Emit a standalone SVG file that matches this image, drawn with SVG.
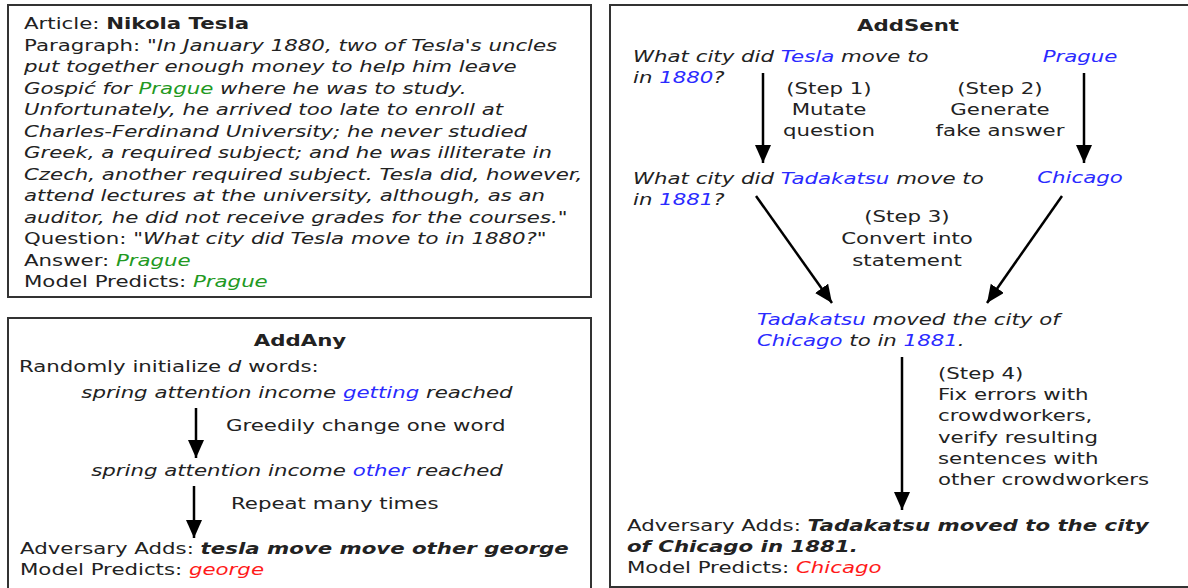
<svg xmlns="http://www.w3.org/2000/svg" width="1188" height="588" viewBox="0 0 1188 588">
<style>
.t{font-family:"DejaVu Sans","Noto Sans",sans-serif;font-size:15px;fill:#222}
.m{text-anchor:middle}
.i{font-style:italic}
.b{font-weight:bold}
.bl{fill:#2a2aff}
.gr{fill:#229922}
.rd{fill:#ff1a1a}
.box{fill:#fff;stroke:#333;stroke-width:2}
.ar{stroke:#000;stroke-width:2.5;fill:none;marker-end:url(#ah)}
</style>
<defs>
<marker id="ah" markerUnits="userSpaceOnUse" markerWidth="20" markerHeight="20" refX="18" refY="8" orient="auto">
<path d="M0,0 L18,8 L0,16 Z" fill="#000"/>
</marker>
</defs>
<rect width="1188" height="588" fill="#fff"/>

<g id="article">
<rect class="box" x="8" y="5" width="583" height="292"/>
<text class="t" transform="translate(24 29) scale(1.42 1)">Article: <tspan class="b">Nikola Tesla</tspan></text>
<text class="t" transform="translate(24 50.5) scale(1.42 1)">Paragraph: "<tspan class="i">In January 1880, two of Tesla's uncles</tspan></text>
<text class="t i" transform="translate(24 72) scale(1.42 1)">put together enough money to help him leave</text>
<text class="t i" transform="translate(24 93.5) scale(1.42 1)">Gospić for <tspan class="gr">Prague</tspan> where he was to study.</text>
<text class="t i" transform="translate(24 115) scale(1.42 1)">Unfortunately, he arrived too late to enroll at</text>
<text class="t i" transform="translate(24 136.5) scale(1.42 1)">Charles-Ferdinand University; he never studied</text>
<text class="t i" transform="translate(24 158) scale(1.42 1)">Greek, a required subject; and he was illiterate in</text>
<text class="t i" transform="translate(24 179.5) scale(1.42 1)">Czech, another required subject. Tesla did, however,</text>
<text class="t i" transform="translate(24 201) scale(1.42 1)">attend lectures at the university, although, as an</text>
<text class="t" transform="translate(24 222.5) scale(1.42 1)"><tspan class="i">auditor, he did not receive grades for the courses.</tspan>"</text>
<text class="t" transform="translate(24 244) scale(1.42 1)">Question: "<tspan class="i">What city did Tesla move to in 1880?</tspan>"</text>
<text class="t" transform="translate(24 265.5) scale(1.42 1)">Answer: <tspan class="i gr">Prague</tspan></text>
<text class="t" transform="translate(24 287) scale(1.42 1)">Model Predicts: <tspan class="i gr">Prague</tspan></text>
</g>

<g id="addany">
<rect class="box" x="8" y="318" width="583" height="275"/>
<text class="t b m" transform="translate(300 346) scale(1.42 1)">AddAny</text>
<text class="t" transform="translate(19 372) scale(1.42 1)">Randomly initialize <tspan class="i">d</tspan> words:</text>
<text class="t i m" transform="translate(297 398) scale(1.42 1)">spring attention income <tspan class="bl">getting</tspan> reached</text>
<text class="t" transform="translate(226 431) scale(1.42 1)">Greedily change one word</text>
<text class="t i m" transform="translate(297 476) scale(1.42 1)">spring attention income <tspan class="bl">other</tspan> reached</text>
<text class="t" transform="translate(231 509) scale(1.42 1)">Repeat many times</text>
<text class="t" transform="translate(20 554) scale(1.42 1)">Adversary Adds: <tspan class="b i">tesla move move other george</tspan></text>
<text class="t" transform="translate(20 575) scale(1.42 1)">Model Predicts: <tspan class="i rd">george</tspan></text>
</g>

<g id="addsent">
<rect class="box" x="610" y="5" width="590" height="582"/>
<text class="t b m" transform="translate(908 31) scale(1.42 1)">AddSent</text>
<text class="t i" transform="translate(633 62) scale(1.42 1)">What city did <tspan class="bl">Tesla</tspan> move to</text>
<text class="t i" transform="translate(633 83) scale(1.42 1)">in <tspan class="bl">1880</tspan>?</text>
<text class="t i bl m" transform="translate(1080 62) scale(1.42 1)">Prague</text>
<text class="t m" transform="translate(829 94) scale(1.42 1)">(Step 1)</text>
<text class="t m" transform="translate(829 115) scale(1.42 1)">Mutate</text>
<text class="t m" transform="translate(829 136) scale(1.42 1)">question</text>
<text class="t m" transform="translate(1000 94) scale(1.42 1)">(Step 2)</text>
<text class="t m" transform="translate(1000 115) scale(1.42 1)">Generate</text>
<text class="t m" transform="translate(1000 136) scale(1.42 1)">fake answer</text>
<text class="t i" transform="translate(633 184) scale(1.42 1)">What city did <tspan class="bl">Tadakatsu</tspan> move to</text>
<text class="t i" transform="translate(633 205) scale(1.42 1)">in <tspan class="bl">1881</tspan>?</text>
<text class="t i bl m" transform="translate(1080 183) scale(1.42 1)">Chicago</text>
<text class="t m" transform="translate(907 222) scale(1.42 1)">(Step 3)</text>
<text class="t m" transform="translate(907 244) scale(1.42 1)">Convert into</text>
<text class="t m" transform="translate(907 266) scale(1.42 1)">statement</text>
<text class="t i" transform="translate(757 325) scale(1.42 1)"><tspan class="bl">Tadakatsu</tspan> moved the city of</text>
<text class="t i" transform="translate(757 346) scale(1.42 1)"><tspan class="bl">Chicago</tspan> to in <tspan class="bl">1881</tspan>.</text>
<text class="t" transform="translate(938 379) scale(1.42 1)">(Step 4)</text>
<text class="t" transform="translate(938 400) scale(1.42 1)">Fix errors with</text>
<text class="t" transform="translate(938 421) scale(1.42 1)">crowdworkers,</text>
<text class="t" transform="translate(938 443) scale(1.42 1)">verify resulting</text>
<text class="t" transform="translate(938 464) scale(1.42 1)">sentences with</text>
<text class="t" transform="translate(938 485) scale(1.42 1)">other crowdworkers</text>
<text class="t" transform="translate(627 531) scale(1.42 1)">Adversary Adds: <tspan class="b i">Tadakatsu moved to the city</tspan></text>
<text class="t b i" transform="translate(627 552) scale(1.42 1)">of Chicago in 1881.</text>
<text class="t" transform="translate(627 573) scale(1.42 1)">Model Predicts: <tspan class="i rd">Chicago</tspan></text>
</g>

<g id="connectors">
<line class="ar" x1="196" y1="408" x2="196" y2="458"/>
<line class="ar" x1="194" y1="486" x2="194" y2="538"/>
<line class="ar" x1="763" y1="73" x2="763" y2="163"/>
<line class="ar" x1="1084" y1="73" x2="1084" y2="163"/>
<line class="ar" x1="756" y1="196" x2="832" y2="303"/>
<line class="ar" x1="1062" y1="196" x2="987" y2="303"/>
<line class="ar" x1="902" y1="357" x2="902" y2="510"/>
</g>
</svg>
